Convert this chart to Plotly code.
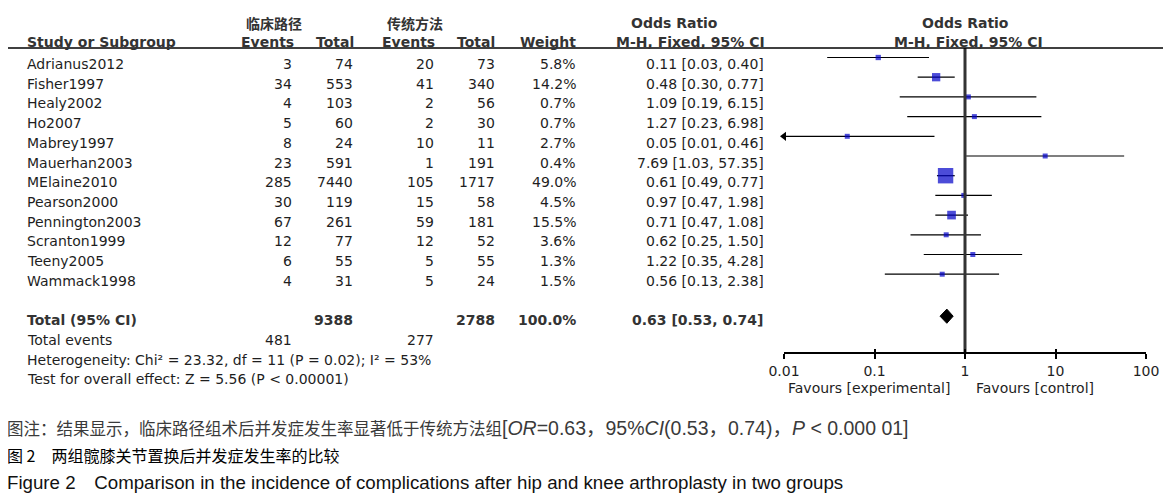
import plotly.graph_objects as go

# ---------------- data ----------------
studies = ["Adrianus2012", "Fisher1997", "Healy2002", "Ho2007", "Mabrey1997",
           "Mauerhan2003", "MElaine2010", "Pearson2000", "Pennington2003",
           "Scranton1999", "Teeny2005", "Wammack1998"]
exp_events = [3, 34, 4, 5, 8, 23, 285, 30, 67, 12, 6, 4]
exp_total = [74, 553, 103, 60, 24, 591, 7440, 119, 261, 77, 55, 31]
ctl_events = [20, 41, 2, 2, 10, 1, 105, 15, 59, 12, 5, 5]
ctl_total = [73, 340, 56, 30, 11, 191, 1717, 58, 181, 52, 55, 24]
weights = [5.8, 14.2, 0.7, 0.7, 2.7, 0.4, 49.0, 4.5, 15.5, 3.6, 1.3, 1.5]
odds = [0.11, 0.48, 1.09, 1.27, 0.05, 7.69, 0.61, 0.97, 0.71, 0.62, 1.22, 0.56]
ci_low = [0.03, 0.30, 0.19, 0.23, 0.01, 1.03, 0.49, 0.47, 0.47, 0.25, 0.35, 0.13]
ci_high = [0.40, 0.77, 6.15, 6.98, 0.46, 57.35, 0.77, 1.98, 1.08, 1.50, 4.28, 2.38]

total_exp_n = 9388
total_ctl_n = 2788
total_weight = 100.0
total_or = 0.63
total_low = 0.53
total_high = 0.74
total_exp_events = 481
total_ctl_events = 277
heterogeneity = "Heterogeneity: Chi² = 23.32, df = 11 (P = 0.02); I² = 53%"
overall_test = "Test for overall effect: Z = 5.56 (P < 0.00001)"

tick_vals = [0.01, 0.1, 1, 10, 100]
tick_text = ["0.01", "0.1", "1", "10", "100"]

group1 = "临床路径"
group2 = "传统方法"
favours_left = "Favours [experimental]"
favours_right = "Favours [control]"

caption1_cn = "图注：结果显示，临床路径组术后并发症发生率显著低于传统方法组"
caption1_en = "[<i>OR</i>=0.63，95%<i>CI</i>(0.53，0.74)，<i>P</i> < 0.000 01]"
caption2 = "图 2　两组髋膝关节置换后并发症发生率的比较"
caption3 = "Figure 2　Comparison in the incidence of complications after hip and knee arthroplasty in two groups"

# ---------------- layout constants (screen pixels) ----------------
W, H = 1171, 504
OFF = 8              # page body margin offset
ROW0_PX = 64.0       # pixel centre of first table row
ROW_H = 19.7         # row pitch
FOREST_OFF = -0.33   # forest marks sit slightly above text centres
AX_L, AX_R = 784, 1146
AXIS_PX = 353
HEADER_LINE_PX = 48


def row_of(px):
    return (px - ROW0_PX) / ROW_H


def px2x(px):
    return (px - OFF) / W


def px2y(px):
    return 1 - (px - OFF) / H


BODY = dict(family="DejaVu Sans", size=14, color="#1e1e1e")
BOLD = dict(family="DejaVu Sans", size=14, color="#333333", weight="bold")
CJK_HEAD = dict(family="Noto Sans CJK SC", size=14, color="#333333", weight="bold")

fig = go.Figure()

# CI lines
for i, (lo, hi) in enumerate(zip(ci_low, ci_high)):
    r = i + FOREST_OFF
    fig.add_trace(go.Scatter(x=[lo, hi], y=[r, r], mode="lines",
                             line=dict(color="black", width=1.2),
                             hoverinfo="skip", showlegend=False, cliponaxis=False))

# arrow for truncated CI (Mabrey1997)
arrow_rows = [i + FOREST_OFF for i, lo in enumerate(ci_low) if lo <= tick_vals[0]]
fig.add_trace(go.Scatter(x=[tick_vals[0]] * len(arrow_rows), y=arrow_rows, mode="markers",
                         marker=dict(symbol="triangle-left", size=8, color="black"),
                         hoverinfo="skip", showlegend=False, cliponaxis=False))

# weight squares
sizes = [max(5, 2.2 * w ** 0.5) for w in weights]
fig.add_trace(go.Scatter(x=odds, y=[i + FOREST_OFF for i in range(len(odds))],
                         mode="markers",
                         marker=dict(symbol="square", size=sizes, color="#0000c8",
                                     line=dict(width=0)),
                         hoverinfo="skip", showlegend=False, cliponaxis=False))

# total diamond
total_row = 13
tr = total_row + FOREST_OFF * 0.6
dh = 0.36
fig.add_trace(go.Scatter(x=[total_low, total_or, total_high, total_or, total_low],
                         y=[tr, tr - dh, tr, tr + dh, tr],
                         mode="lines", fill="toself", fillcolor="black",
                         line=dict(color="black", width=1),
                         hoverinfo="skip", showlegend=False, cliponaxis=False))

# line of no effect
fig.add_trace(go.Scatter(x=[1, 1], y=[row_of(HEADER_LINE_PX), row_of(AXIS_PX)],
                         mode="lines", line=dict(color="#333333", width=3),
                         hoverinfo="skip", showlegend=False, cliponaxis=False))

# invisible trace to anchor second (inside-tick) axis
fig.add_trace(go.Scatter(x=[1], y=[row_of(AXIS_PX)], xaxis="x2", mode="markers",
                         marker=dict(opacity=0), hoverinfo="skip", showlegend=False))

ann = []


def add_text(text, xpx, row, anchor, font):
    ann.append(dict(text=text, x=px2x(xpx), xref="paper", y=row, yref="y",
                    xanchor=anchor, yanchor="middle", showarrow=False, font=font))


# header rows
hr1 = row_of(23)
hr2 = row_of(42)
add_text(group1, 274, hr1, "center", CJK_HEAD)
add_text(group2, 415, hr1, "center", CJK_HEAD)
add_text("Odds Ratio", 674, hr1, "center", BOLD)
add_text("Odds Ratio", 965, hr1, "center", BOLD)
add_text("Study or Subgroup", 25, hr2, "left", BOLD)
add_text("Events", 296, hr2, "right", BOLD)
add_text("Total", 356, hr2, "right", BOLD)
add_text("Events", 437, hr2, "right", BOLD)
add_text("Total", 497, hr2, "right", BOLD)
add_text("Weight", 578, hr2, "right", BOLD)
add_text("M-H, Fixed, 95% CI", 690, hr2, "center", BOLD)
add_text("M-H, Fixed, 95% CI", 968, hr2, "center", BOLD)

# study rows
for i, s in enumerate(studies):
    add_text(s, 25, i, "left", BODY)
    add_text(str(exp_events[i]), 294, i, "right", BODY)
    add_text(str(exp_total[i]), 355, i, "right", BODY)
    add_text(str(ctl_events[i]), 436, i, "right", BODY)
    add_text(str(ctl_total[i]), 497, i, "right", BODY)
    add_text(f"{weights[i]:.1f}%", 578, i, "right", BODY)
    add_text(f"{odds[i]:.2f} [{ci_low[i]:.2f}, {ci_high[i]:.2f}]", 766, i, "right", BODY)

# totals
add_text("Total (95% CI)", 25, total_row, "left", BOLD)
add_text(str(total_exp_n), 355, total_row, "right", BOLD)
add_text(str(total_ctl_n), 497, total_row, "right", BOLD)
add_text(f"{total_weight:.1f}%", 578, total_row, "right", BOLD)
add_text(f"{total_or:.2f} [{total_low:.2f}, {total_high:.2f}]", 766, total_row, "right", BOLD)
add_text("Total events", 25, 14, "left", BODY)
add_text(str(total_exp_events), 294, 14, "right", BODY)
add_text(str(total_ctl_events), 436, 14, "right", BODY)
add_text(heterogeneity, 25, 15, "left", BODY)
add_text(overall_test, 25, 16, "left", BODY)

# favours labels
add_text(favours_left, 952, row_of(388), "right", BODY)
add_text(favours_right, 974, row_of(388), "left", BODY)

# captions
caption1 = ('<span style="font-family:Noto Sans CJK SC;font-size:16.5px">' + caption1_cn
            + '</span>' + caption1_en)
ann.append(dict(text=caption1, x=px2x(5), xref="paper", y=px2y(428), yref="paper",
                xanchor="left", yanchor="middle", showarrow=False,
                font=dict(family="Liberation Sans, Noto Sans CJK SC", size=19.5, color="#3a3a3a")))
ann.append(dict(text=caption2, x=px2x(5), xref="paper", y=px2y(455), yref="paper",
                xanchor="left", yanchor="middle", showarrow=False,
                font=dict(family="Noto Sans CJK SC", size=16, color="#000000")))
ann.append(dict(text=caption3, x=px2x(5), xref="paper", y=px2y(482), yref="paper",
                xanchor="left", yanchor="middle", showarrow=False,
                font=dict(family="Liberation Sans, Noto Sans CJK SC", size=18.7, color="#111111")))

shapes = [dict(type="line", xref="paper", yref="y", x0=px2x(7), x1=px2x(1166),
               y0=row_of(HEADER_LINE_PX), y1=row_of(HEADER_LINE_PX),
               line=dict(color="black", width=1.3))]

x_domain = [px2x(AX_L), px2x(AX_R)]
common_x = dict(type="log", range=[-2, 2], domain=x_domain, anchor="free",
                position=px2y(AXIS_PX), showgrid=False, zeroline=False,
                tickvals=tick_vals, fixedrange=True, automargin=False)

fig.update_layout(
    width=W, height=H,
    margin=dict(l=0, r=0, t=0, b=0, pad=0, autoexpand=False),
    paper_bgcolor="white", plot_bgcolor="rgba(0,0,0,0)",
    xaxis=dict(**common_x, ticktext=tick_text, showline=True, linecolor="black",
               linewidth=2, ticks="outside", ticklen=5, tickwidth=2, tickcolor="black",
               ticklabelstandoff=0,
               tickfont=dict(family="DejaVu Sans", size=14, color="#1e1e1e")),
    xaxis2=dict(**common_x, overlaying="x", showline=False, ticks="inside",
                ticklen=4, tickwidth=2, tickcolor="black", showticklabels=False),
    yaxis=dict(range=[row_of(H + OFF), row_of(OFF)], domain=[0, 1], visible=False,
               showgrid=False, zeroline=False, fixedrange=True, automargin=False),
    annotations=ann,
    shapes=shapes,
    showlegend=False,
)

fig.write_html("out.html")
